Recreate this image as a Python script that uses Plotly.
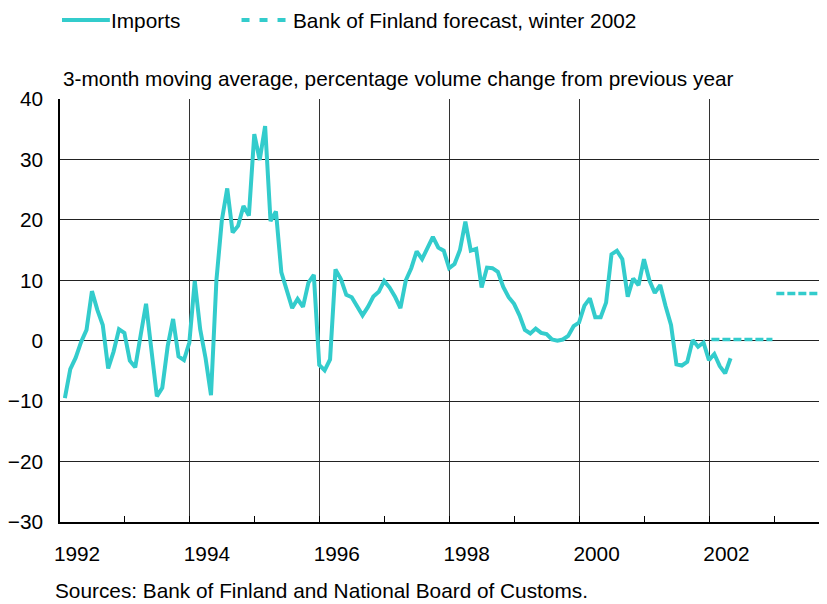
import plotly.graph_objects as go

# ---- data ----
start_year = 1992
imports = [
    -9.5, -4.7, -2.8, -0.2, 1.8, 8.2, 5.1, 2.6, -4.6, -1.8, 1.9, 1.3,
    -3.3, -4.4, 0.9, 6.1, -1.6, -9.2, -7.8, -0.9, 3.6, -2.6, -3.2, -0.3,
    9.9, 1.9, -2.9, -9.0, 10.0, 19.9, 25.2, 17.9, 19.0, 22.3, 20.7, 34.2,
    29.9, 35.5, 19.8, 21.4, 11.3, 8.1, 5.4, 6.9, 5.6, 9.6, 10.9, -4.0,
    -4.9, -3.1, 11.8, 10.2, 7.6, 7.2, 5.7, 4.2, 5.6, 7.3, 8.1, 9.9,
    8.8, 7.3, 5.4, 10.0, 12.0, 14.8, 13.5, 15.3, 17.2, 15.4, 14.9, 12.0,
    12.7, 15.0, 19.7, 14.9, 15.2, 8.8, 12.1, 12.0, 11.4, 8.9, 7.2, 6.1,
    4.2, 1.8, 1.2, 2.0, 1.3, 1.1, 0.2, 0.0, 0.2, 0.8, 2.4, 3.0,
    5.8, 7.0, 3.9, 3.9, 6.3, 14.3, 14.9, 13.5, 7.3, 10.3, 9.2, 13.5,
    10.0, 7.9, 9.2, 5.7, 2.6, -3.9, -4.1, -3.5, 0.1, -1.0, -0.3, -3.2,
    -2.2, -4.2, -5.4, -2.9,
]
forecast_years = [2002, 2003]
forecast_values = [0.2, 7.8]

label_years = [1992, 1994, 1996, 1998, 2000, 2002]
y_ticks = [-30, -20, -10, 0, 10, 20, 30, 40]

COLOR = "#33CCCC"
FONT = "Liberation Sans, Arial, sans-serif"
FS = 20.8

# month positions
imports_x = [start_year + (i + 0.9) / 12 for i in range(len(imports))]

fc_x, fc_y = [], []
for yr, v in zip(forecast_years, forecast_values):
    fc_x += [yr + 0.03, yr + 0.97, None]
    fc_y += [v, v, None]

fig = go.Figure()
fig.add_trace(go.Scatter(x=imports_x, y=imports, mode="lines", name="Imports",
                         line=dict(color=COLOR, width=4), showlegend=False))
fig.add_trace(go.Scatter(x=fc_x, y=fc_y, mode="lines",
                         name="Bank of Finland forecast, winter 2002",
                         line=dict(color=COLOR, width=3.5, dash="8px,3px"),
                         showlegend=False))

# page has an 8px body margin; work in page pixels
OFF = 8
PAGE_W, PAGE_H = 827, 604
W, H = PAGE_W - OFF, PAGE_H - OFF
PL, PR, PT, PB = 58, 827, 99, 522   # plot area in page pixels
L, R, T, B = PL - OFF, PAGE_W - PR, PT - OFF, PAGE_H - PB
PW, PH = PR - PL, PB - PT


def px(x):
    return (x - PL) / PW


def py(y):
    return (PB - y) / PH


fig.update_layout(
    width=W, height=H,
    margin=dict(l=L, r=R, t=T, b=B, pad=0),
    paper_bgcolor="white", plot_bgcolor="white",
    font=dict(family=FONT, size=FS, color="black"),
    xaxis=dict(
        range=[1992, 2003.81], tickvals=label_years,
        ticktext=[str(y) for y in label_years],
        ticks="inside", ticklen=6, tickcolor="black", tickwidth=1,
        minor=dict(dtick=1, tick0=1992, ticks="inside", ticklen=6,
                   tickcolor="black", showgrid=False),
        showgrid=True, gridcolor="#333333", gridwidth=1,
        showline=True, linecolor="black", linewidth=2,
        zeroline=False, ticklabelshift=17, ticklabelstandoff=12,
        tickfont=dict(size=FS),
    ),
    yaxis=dict(
        range=[-30, 40], tickvals=y_ticks,
        ticks="", showgrid=True, gridcolor="#222222", gridwidth=1,
        showline=True, linecolor="black", linewidth=1.5,
        zeroline=False, ticklabelstandoff=11,
        tickfont=dict(size=FS),
    ),
)

# legend drawn at the top
fig.add_shape(type="line", xref="paper", yref="paper",
              x0=px(60), x1=px(108), y0=py(20), y1=py(20),
              line=dict(color=COLOR, width=4))
fig.add_shape(type="line", xref="paper", yref="paper",
              x0=px(240), x1=px(289), y0=py(20), y1=py(20),
              line=dict(color=COLOR, width=4, dash="8px,10px"))
fig.add_annotation(text="Imports", xref="paper", yref="paper",
                   x=px(107), y=py(20), xanchor="left", yanchor="middle",
                   showarrow=False, font=dict(size=FS))
fig.add_annotation(text="Bank of Finland forecast, winter 2002", xref="paper",
                   yref="paper", x=px(290), y=py(20), xanchor="left",
                   yanchor="middle", showarrow=False, font=dict(size=FS))
fig.add_annotation(text="3-month moving average, percentage volume change from previous year",
                   xref="paper", yref="paper", x=px(59), y=py(79),
                   xanchor="left", yanchor="middle", showarrow=False,
                   font=dict(size=FS))
fig.add_annotation(text="Sources: Bank of Finland and National Board of Customs.",
                   xref="paper", yref="paper", x=px(51), y=py(590),
                   xanchor="left", yanchor="middle", showarrow=False,
                   font=dict(size=FS))

fig.write_html("out.html")
